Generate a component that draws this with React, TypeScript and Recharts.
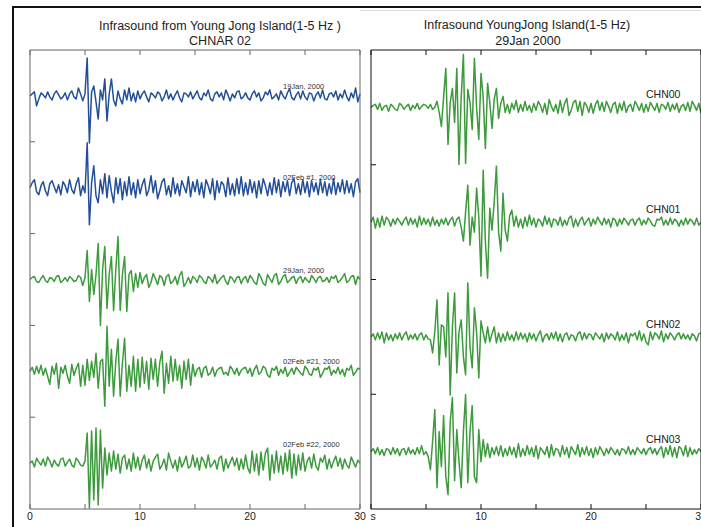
import React from "react";
import { LineChart, Line, XAxis, YAxis } from "recharts";

// ==================== Data ====================

const STEP = 0.2; // seconds between samples
const X_TICKS = [0, 5, 10, 15, 20, 25, 30];

// left panel, CHNAR 02, amplitude in px around each trace baseline
const JAN19 = [
  0, 2, 4, -10, -3, 3, 1, -2, 4, -1, -4, 2, 5, 1, -3, -1, 3, -4, 2, 5, -1, -3, 8, 2, -5,
  2, 38, -47, 4, 10, -6, -23, 6, -4, 17, -25, 2, 17, -4, -10, 5, -3, -8, 6, -4, 8, -5, 3, -6, 5,
  -3, 2, 5, -1, -6, 3, 1, -2, 4, 2, -5, -1, 6, -3, 2, -4, 1, 5, -2, -6, 3, 2, -1, 4, -3,
  1, 5, -2, -4, 3, 0, 6, -3, -5, 2, 4, -1, 3, -4, 6, 1, -5, 2, -2, 4, 5, -3, -1, 3, -2,
  -4, 2, 5, -1, 3, -5, -2, 4, 1, 6, -3, -1, 2, -4, 5, 0, -3, 3, 7, -2, -4, 1, 4, -3, 5,
  -1, -4, 3, 2, -5, 1, 4, -2, 6, -3, -4, 2, 3, -1, 5, -4, 2, -2, 6, -1, -5, 3, -2, 8, -6, 2,
];
const FEB02_1 = [
  0, 5, 8, -4, -7, 2, 6, -3, -8, 4, 7, 1, -5, 3, -7, 6, 2, -5, 8, -2, -6, 4, 10, -8, 2,
  -5, 45, -37, 5, 22, -8, -15, 8, -6, 14, -10, 12, -4, -15, 10, -6, 9, -12, 6, -8, 11, -7, 5, -10, 8,
  -6, 3, 9, -8, -2, 12, -5, 7, -11, -3, 6, 9, -7, 2, -9, 10, -6, 4, -8, 7, 1, -5, 11, -9, 6,
  -4, 8, -7, 5, -10, 8, 2, -6, 9, -12, 7, -5, 6, 3, -9, 10, -7, 4, -8, 9, -6, 11, -8, 5, -7,
  8, -5, 6, -10, 7, -6, 9, 2, -8, 5, -7, 10, -5, 8, -9, 6, -4, 7, -8, 5, 9, -6, 4, -7, 8,
  -5, 6, -9, 7, -4, 5, -7, 8, -5, 6, -8, 4, -6, 9, -7, 5, -4, 8, -6, 7, -5, 4, -9, 6, 9, -5,
];
const JAN29 = [
  0, 2, 3, -2, -3, 1, 4, -1, -3, 2, 1, -2, 3, 4, -3, -1, 2, -2, 3, 1, -2, -1, 4, 2, -6,
  2, 29, -22, 10, -15, 5, 36, -46, 10, 33, -29, 5, 23, -31, 10, 43, -31, 5, 23, -32, 5, 9, -12, 6, -8,
  7, -4, 2, 5, -8, -3, 6, 1, -5, 4, 2, -6, 3, 5, -4, -2, 3, -5, 4, 8, -7, -3, 2, -4, 3,
  1, -3, 4, 2, -2, -4, 3, 1, -3, 5, -4, -1, 2, 4, -2, -5, 3, 1, -3, 2, 3, -4, 1, 3, -3,
  4, 1, -3, -5, 6, 2, -4, -6, 5, 1, -3, 4, 6, -5, -2, 3, 5, -3, -1, 2, 3, -4, 1, 3, -3,
  2, -1, -3, 4, 1, -3, 2, 3, -2, -1, 2, -3, 3, 1, 4, -3, -1, 2, 6, -3, -1, 3, 4, -5, 3, 0,
];
const FEB02_21 = [
  0, 4, -3, 5, -2, 6, -4, 3, -5, -13, 5, -3, 8, -17, 4, -2, 6, -5, -12, 7, -4, 3, 8, -15, 6,
  -14, 12, -9, 10, -6, 18, -17, 10, 12, -35, 45, -15, 22, -25, 10, 32, -25, 8, 33, -20, 6, -15, 15, -20, 12,
  -16, 14, -12, 10, -18, 13, -8, 12, -15, 9, 20, -22, 8, -12, 15, -10, 12, -9, 6, -17, 10, -8, 12, -14, 7,
  -5, 2, 4, -6, 3, 5, -4, -2, 4, -5, 1, 3, 4, -3, -1, -4, 5, 2, -3, 3, -4, 1, 3, 4, -2,
  3, -5, 2, 6, -3, -1, 5, 3, -4, -6, 3, 1, 5, -4, 2, -2, 4, -5, -1, 3, -3, 4, 1, -2, -4,
  5, 2, -3, -4, 3, 1, 4, -6, -2, 3, 2, 5, -4, 1, -2, 4, -3, 2, -5, 3, 1, 6, -4, -1, 3, 2,
];
const FEB02_22 = [
  0, 2, -4, 5, 1, -2, 4, -3, 6, 2, -4, 3, -1, -3, 4, 5, -3, 1, 4, -2, -4, 5, 2, -2, -3,
  2, 30, -45, 32, -37, 35, -42, 33, -25, 15, -12, 10, -8, 12, -6, 9, -10, 5, 8, -6, 4, -8, 10, -5, 6,
  -7, 3, 8, -5, 4, -8, 2, 6, 9, -6, -2, 4, -7, 10, 2, -5, 3, -8, 6, -4, 1, 7, -5, -3, 8,
  -4, 5, -7, 6, 2, -5, 8, -4, -1, 3, -6, 5, 7, -8, 4, -5, 1, 6, -3, 5, -7, 4, -6, 8, -5,
  -10, 12, -8, 9, -12, 11, -7, 10, 15, -17, 8, -10, 12, -9, 7, -11, 10, -8, 13, -15, 9, -12, 8, -7, 10,
  -8, 2, 6, -5, 9, -3, -7, 5, 1, 8, -6, 4, -5, 2, 7, -3, 5, -6, 4, -2, -5, 6, 1, -4, 3, 0,
];

// right panel, 29 Jan 2000, four array elements
const CHN00 = [
  0, 2, 3, -2, 4, -3, 1, 2, -4, 3, 1, -2, -3, 4, 2, -2, 1, 3, -3, 2, -1, 4, -2, 1, 3,
  2, -1, 3, -2, 0, 6, -5, -19, 10, 39, -37, 5, 19, -15, 39, -57, 10, 53, -56, 18, 5, -22, 49, 0, -32,
  34, 10, -41, 24, 5, -21, 8, 19, -11, 4, 11, -5, 3, -6, 4, -2, 7, -5, 3, -4, 6, -3, 2, -5, 4,
  -3, 6, 2, -5, 4, -7, 8, 1, -4, 3, -6, 7, -5, 4, 9, -8, -3, 5, 7, -4, 6, -8, 5, 2, -5,
  4, -6, 3, 7, -3, 5, -4, 6, 1, -5, 3, 5, -6, 4, -3, 6, -5, 1, 3, -4, 6, 2, -3, 4, -5,
  3, -4, 5, 1, -3, 4, -5, 3, 2, -2, 5, -4, 3, -2, 4, -5, 1, 3, -3, 5, -4, 6, 2, -3, 4, -6,
];
const CHN01 = [
  0, 5, -6, 4, -5, 6, -3, 5, 2, -4, 3, -2, 4, 1, -3, 2, 5, -3, 4, -2, 3, -5, 6, -3, 4,
  -2, 3, -4, 5, -3, 2, -4, 3, -2, 4, -3, 2, 5, -4, 3, 5, -5, -19, 10, 37, -23, 5, -10, 34, 5,
  -54, 52, -20, -56, 14, -8, 20, 56, -10, -29, 29, -8, -19, 6, 12, -4, 6, -5, 3, -6, 5, -4, 7, -3, 4,
  -5, 3, 1, -4, 6, -2, 4, -5, 3, 2, -3, 5, -4, 2, -3, 4, 6, -5, 3, -4, 2, 5, -3, 1, 4,
  -4, 3, -2, 5, 1, -3, 4, -2, 3, -5, 4, 2, -4, 3, -2, 4, 1, -3, 2, 3, -3, 2, 4, -3, 2,
  -2, 4, 1, -3, -4, 3, 2, 5, -3, 2, -3, 4, -2, 3, 1, -4, 2, -3, 4, -2, 3, 1, -3, 4, -3, 0,
];
const CHN02 = [
  0, 3, -3, 4, -2, 5, -6, 4, -3, 2, -4, 3, -2, 4, -3, 2, 5, -3, 2, -2, 3, -3, 2, 4, -3,
  2, -2, -3, -16, 5, 37, -28, 12, 10, -20, 44, -58, 10, 44, -36, 5, 17, -20, -38, 54, -10, -31, 29, 5, -41,
  16, 4, -6, 10, -5, 3, 10, -6, 4, -5, 3, -4, 5, -3, 2, -4, 5, -3, 4, -2, 3, -5, 4, -2, 3,
  -4, 2, 6, -5, 1, 3, -3, 4, -2, 5, -4, 3, -5, 2, 4, -3, 2, 1, -4, 3, 5, -3, 4, -2, 3,
  2, -3, 4, 1, -2, 3, -5, 4, -2, 3, 1, -3, 5, -4, 2, -3, 4, -6, 3, 1, 4, -3, 6, -4, 3,
  -5, -8, 5, -3, 4, 2, -2, 6, -5, 3, -2, 4, 1, -3, 2, 4, -2, 3, -2, 2, -3, 3, 1, -4, 3, 4,
];
const CHN03 = [
  0, 3, -2, 4, -3, 2, -4, 3, 2, -3, 4, -2, 3, -4, 2, 3, -3, 4, -2, 2, -3, 4, -2, 6, -3,
  0, -5, -18, 10, 42, -36, 20, -15, 36, -25, -43, 30, 54, -29, 22, -10, -36, 20, 57, -31, 20, 46, -25, -31, 22,
  -10, 12, -5, 8, -6, 4, -3, 5, -4, 6, -5, 3, -4, 5, -3, 4, -6, 8, -5, 3, -4, 6, -3, 4, -5,
  6, -7, 4, 1, -3, 5, -6, 7, -4, 3, 2, -5, 6, -3, 4, -6, 5, 1, -3, 7, -5, 4, -3, 5, -4,
  3, -6, 4, -3, 5, 1, -4, 3, -2, 4, 1, -3, 2, -4, 3, 2, -2, 5, -3, 2, -3, 4, 1, -2, 3,
  -3, 2, 4, -2, 3, -3, 2, 5, -6, 4, -3, 6, -5, 4, -6, 5, 3, -4, 6, -5, 4, -3, 2, -2, 3, 0,
];

const LEFT_LABELS = ["19Jan, 2000", "02Feb #1, 2000", "29Jan, 2000", "02Feb #21, 2000", "02Feb #22, 2000"];
const RIGHT_LABELS = ["CHN00", "CHN01", "CHN02", "CHN03"];

// ==================== Layout ====================

const PLOT_H = 459;
const LEFT_BAND = PLOT_H / 5;
const RIGHT_BAND = PLOT_H / 4;
const BLUE = "#234f98";
const GREEN = "#3d9a3d";
const FONT = "'Liberation Sans', Arial, sans-serif";

const times = JAN19.map((_, i) => +(i * STEP).toFixed(1));

const leftKeys = ["a", "b", "c", "d", "e"];
const leftSeries = [JAN19, FEB02_1, JAN29, FEB02_21, FEB02_22];
const leftColors = [BLUE, BLUE, GREEN, GREEN, GREEN];
const leftRows = times.map((t, i) => {
  const row: Record<string, number> = { t };
  leftSeries.forEach((s, k) => {
    row[leftKeys[k]] = PLOT_H - (k + 0.5) * LEFT_BAND + s[i];
  });
  return row;
});

const rightKeys = ["a", "b", "c", "d"];
const rightSeries = [CHN00, CHN01, CHN02, CHN03];
const rightRows = times.map((t, i) => {
  const row: Record<string, number> = { t };
  rightSeries.forEach((s, k) => {
    row[rightKeys[k]] = PLOT_H - (k + 0.5) * RIGHT_BAND + s[i];
  });
  return row;
});

// ==================== Ticks ====================

const BottomTick = (props: any) => {
  const { x, y, payload, stroke, zeroLabel } = props;
  const v = payload.value;
  let label: string | null = v % 10 === 0 ? String(v) : null;
  if (v === 0 && zeroLabel !== undefined) label = zeroLabel;
  return (
    <g>
      <line x1={x} y1={y} x2={x} y2={y - 5} stroke={stroke} />
      {label && (
        <text x={v === 0 && zeroLabel ? x + 2 : x} y={y + 4} dy="0.71em" textAnchor="middle"
          fontSize={10.5} fontFamily={FONT} fill="#222">
          {label}
        </text>
      )}
    </g>
  );
};

const TopTick = (props: any) => (
  <line x1={props.x} y1={props.y} x2={props.x} y2={props.y + 5} stroke={props.stroke} />
);
const LeftTick = (props: any) => (
  <line x1={props.x} y1={props.y} x2={props.x + 5} y2={props.y} stroke={props.stroke} />
);
const RightTick = (props: any) => (
  <line x1={props.x} y1={props.y} x2={props.x - 5} y2={props.y} stroke={props.stroke} />
);

// ==================== Panel ====================

interface PanelProps {
  rows: Record<string, number>[];
  keys: string[];
  colors: string[];
  yTicks: number[];
  frame: string;
  width: number;
  marginLeft: number;
  marginRight: number;
  zeroLabel?: string;
}

// axes take 1px each, margins below are reduced by that
const Panel: React.FC<PanelProps> = ({ rows, keys, colors, yTicks, frame, width, marginLeft, marginRight, zeroLabel }) => (
  <LineChart width={width} height={527} data={rows}
    margin={{ top: 49, bottom: 17, left: marginLeft - 1, right: marginRight - 1 }}>
    <XAxis dataKey="t" type="number" domain={[0, 30]} ticks={X_TICKS} height={1}
      tickSize={0} tickMargin={0} tickLine={false} axisLine={{ stroke: frame }}
      tick={<BottomTick stroke={frame} zeroLabel={zeroLabel} />} interval={0} />
    <XAxis xAxisId="top" orientation="top" dataKey="t" type="number" domain={[0, 30]} ticks={X_TICKS}
      height={1} tickSize={0} tickMargin={0} tickLine={false} axisLine={{ stroke: frame }}
      tick={<TopTick stroke={frame} />} interval={0} />
    <YAxis yAxisId="l" type="number" domain={[0, PLOT_H]} ticks={yTicks} width={1}
      tickSize={0} tickMargin={0} tickLine={false} axisLine={{ stroke: frame }}
      tick={<LeftTick stroke={frame} />} interval={0} />
    <YAxis yAxisId="r" orientation="right" type="number" domain={[0, PLOT_H]} ticks={yTicks} width={1}
      tickSize={0} tickMargin={0} tickLine={false} axisLine={{ stroke: frame }}
      tick={<RightTick stroke={frame} />} interval={0} />
    {keys.map((k, i) => (
      <Line key={k} yAxisId="l" type="linear" dataKey={k} stroke={colors[i]} strokeWidth={1.5}
        dot={false} activeDot={false} isAnimationActive={false} strokeLinejoin="round" />
    ))}
  </LineChart>
);

// ==================== App ====================

const txt = (s: string, left: number, cy: number, size: number, align: "center" | "left", color = "#222") => (
  <div key={s} style={{
    position: "absolute", left, top: cy - size / 2, fontSize: size, lineHeight: `${size}px`,
    fontFamily: FONT, color, whiteSpace: "nowrap",
    transform: align === "center" ? "translateX(-50%)" : undefined,
  }}>{s}</div>
);

const LEFT_LABEL_Y = [87, 178, 271, 362, 445];
const RIGHT_LABEL_Y = [94, 209.5, 324, 439.5];

export default function App() {
  return (
    <div style={{ position: "absolute", left: 0, top: 0, width: 701, height: 527, overflow: "hidden", background: "#fff" }}>
      <div style={{ position: "absolute", left: 12, top: 6, width: 689, height: 2, background: "#111" }} />
      <div style={{ position: "absolute", left: 12, top: 6, width: 2, height: 521, background: "#111" }} />
      <div style={{ position: "absolute", left: 360, top: 10, width: 341, height: 1, background: "#ddd" }} />

      <div style={{ position: "absolute", left: 0, top: 0 }}>
        <Panel rows={leftRows} keys={leftKeys} colors={leftColors}
          yTicks={[1, 2, 3, 4].map((k) => k * LEFT_BAND)} frame="#666"
          width={380} marginLeft={30} marginRight={20} />
      </div>
      <div style={{ position: "absolute", left: 360, top: 0 }}>
        <Panel rows={rightRows} keys={rightKeys} colors={[GREEN, GREEN, GREEN, GREEN]}
          yTicks={[1, 2, 3].map((k) => k * RIGHT_BAND)} frame="#111"
          width={360} marginLeft={11} marginRight={19} zeroLabel="s" />
      </div>

      {txt("Infrasound from Young Jong Island(1-5 Hz )", 220, 26, 12.5, "center")}
      {txt("CHNAR 02", 220, 41.7, 12.5, "center")}
      {txt("Infrasound YoungJong Island(1-5 Hz)", 527, 25, 12.5, "center")}
      {txt("29Jan 2000", 528, 41, 12.5, "center")}

      {LEFT_LABELS.map((l, i) => txt(l, 283, LEFT_LABEL_Y[i], 7.5, "left", "#333"))}
      {RIGHT_LABELS.map((l, i) => txt(l, 646, RIGHT_LABEL_Y[i], 10.5, "left", "#222"))}
    </div>
  );
}
